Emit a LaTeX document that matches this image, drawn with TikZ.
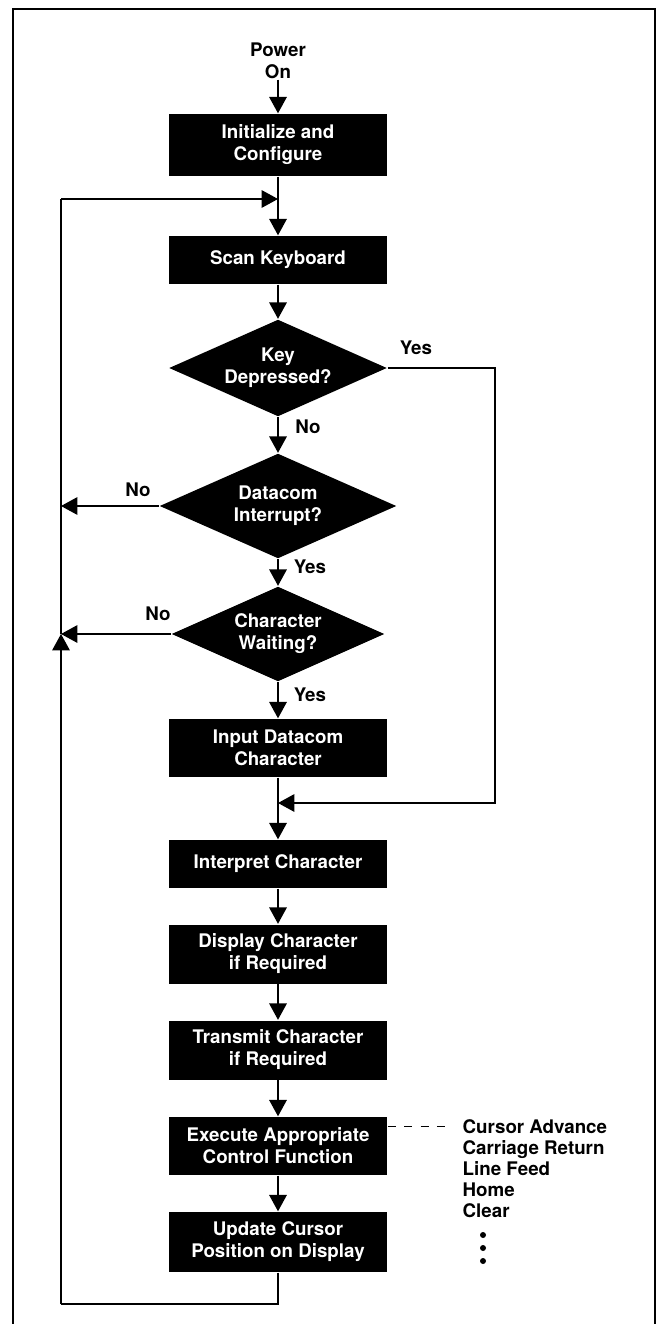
\documentclass[tikz,border=0pt]{standalone}
\usepackage{fontspec}
\setmainfont{TeX Gyre Heros}
\usetikzlibrary{arrows.meta,shapes.geometric}

\tikzset{
  blk/.style={fill=black, text=white, align=center, inner sep=0pt,
    minimum width=6.54cm, minimum height=1.77cm},
  thin blk/.style={blk, minimum height=1.44cm},
  dec/.style={diamond, fill=black, text=white, align=center, inner sep=0pt, aspect=2.2},
  lbl/.style={align=center, inner sep=0pt},
  itm/.style={anchor=base west, inner sep=0pt},
}

\begin{document}
\begin{tikzpicture}[x=0.03cm, y=-0.03cm, line width=1.2pt,
    >={Triangle[length=14pt,width=15pt]},
    font=\fontsize{16}{18.8}\selectfont\bfseries]
  \useasboundingbox (0,0) rectangle (661,1324);
  % frame (bottom edge cut off)
  \draw [line width=2.3pt] (13,1324) -- (13,9) -- (655,9) -- (655,1324);

  \node [lbl] (pwr) at (278,61) {Power\\On};
  \node [blk, minimum height=1.86cm] (ini) at (278,145) {Initialize and\\Configure};
  \node [thin blk] (scan) at (278,260) {Scan Keyboard};
  \node [dec, minimum width=6.54cm, minimum height=2.91cm] (key) at (278,368) {Key\\Depressed?};
  \node [dec, minimum width=7.11cm, minimum height=3.15cm] (dcm) at (278,506) {Datacom\\Interrupt?};
  \node [dec, minimum width=6.39cm, minimum height=2.85cm] (chw) at (278,634) {Character\\Waiting?};
  \node [blk, minimum height=1.74cm] (inp) at (278,748) {Input Datacom\\Character};
  \node [thin blk] (itp) at (278,864) {Interpret Character};
  \node [blk] (dsp) at (278,954) {Display Character\\if Required};
  \node [blk] (xmt) at (278,1050) {Transmit Character\\if Required};
  \node [blk, minimum height=1.74cm] (exe) at (278,1146) {Execute Appropriate\\Control Function};
  \node [blk, minimum height=1.8cm] (upd) at (278,1242) {Update Cursor\\Position on Display};

  % branch labels
  \node [lbl] (ykey) at (416,348) {Yes};
  \node [lbl] (nkey) at (308,427) {No};
  \node [lbl] (ndcm) at (138,490) {No};
  \node [lbl] (ydcm) at (310,567) {Yes};
  \node [lbl] (nchw) at (158,614) {No};
  \node [lbl] (ychw) at (310,695) {Yes};

  % control functions
  \node [itm] (ca) at (462,1133.5) {Cursor Advance};
  \node [itm] (cr) at (462,1154.5) {Carriage Return};
  \node [itm] (lf) at (462,1175.5) {Line Feed};
  \node [itm] (hm) at (462,1196.5) {Home};
  \node [itm] (cl) at (462,1217.5) {Clear};
  \foreach \y in {1235,1248,1261}
    \fill (483,\y) circle [radius=0.09cm];

  \coordinate (jt) at (278,199);
  \coordinate (lt) at (61,199);
  \coordinate (lm) at (61,634);
  \coordinate (lb) at (61,1304);
  \coordinate (rc) at (495,803);
  \coordinate (jr) at (278,803);

  \draw [->] (pwr) -- (ini);
  \draw (ini) -- (jt);
  \draw [->] (jt) -- (scan);
  \draw [->] (scan) -- (key);
  \draw [->] (key) -- (dcm);
  \draw [->] (dcm) -- (chw);
  \draw [->] (chw) -- (inp);
  \draw (inp) -- (jr);
  \draw [->] (jr) -- (itp);
  \draw [->] (itp) -- (dsp);
  \draw [->] (dsp) -- (xmt);
  \draw [->] (xmt) -- (exe);
  \draw [->] (exe) -- (upd);

  % yes branch of key test
  \draw [->] (key.east) -| (rc) -- (jr);
  % no branches and loop back
  \draw [->] (dcm.west) -- (dcm.west -| lt);
  \draw [->] (chw.west) -- (lm);
  \draw (upd.south) |- (lb);
  \draw [->] (lb) -- (lm);
  \draw (lm) -- (lt);
  \draw [->] (lt) -- (jt);

  \draw [dash pattern=on 7pt off 7pt] (exe.east |- ca.west) -- ([xshift=-8pt]ca.west);
\end{tikzpicture}
\end{document}
